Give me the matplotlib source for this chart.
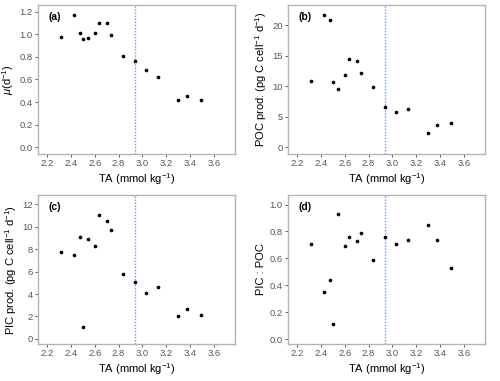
import matplotlib
matplotlib.use("Agg")
import matplotlib.pyplot as plt

plt.rcParams['font.family'] = ['Liberation Sans', 'DejaVu Sans']
plt.rcParams['mathtext.fontset'] = 'custom'
plt.rcParams['mathtext.rm'] = 'Liberation Sans'
plt.rcParams['mathtext.it'] = 'Liberation Sans:italic'

ta = [2.32, 2.43, 2.48, 2.50, 2.54, 2.60, 2.64, 2.70, 2.74, 2.84, 2.94, 3.03, 3.13, 3.30, 3.37, 3.49]
mu = [0.98, 1.17, 1.01, 0.96, 0.97, 1.01, 1.10, 1.10, 0.99, 0.81, 0.76, 0.68, 0.62, 0.42, 0.45, 0.42]
poc = [10.8, 21.7, 20.9, 10.7, 9.5, 11.9, 14.5, 14.2, 12.2, 9.8, 6.6, 5.7, 6.2, 2.3, 3.6, 4.0]
pic = [7.7, 7.5, 9.1, 1.1, 8.9, 8.25, 11.0, 10.5, 9.7, 5.8, 5.1, 4.1, 4.65, 2.0, 2.7, 2.1]
ratio = [0.71, 0.35, 0.44, 0.11, 0.93, 0.69, 0.76, 0.73, 0.79, 0.59, 0.76, 0.71, 0.74, 0.85, 0.74, 0.53]
threshold = 2.935

xticks = [2.2, 2.4, 2.6, 2.8, 3.0, 3.2, 3.4, 3.6]
panels = [
    ("(a)", mu, r"$\mathit{\mu}$(d$^{-1}$)", [0.0, 0.2, 0.4, 0.6, 0.8, 1.0, 1.2], (-0.06, 1.26), "{:.1f}"),
    ("(b)", poc, r"POC prod. (pg C cell$^{-1}$ d$^{-1}$)", [0, 5, 10, 15, 20], (-1.1, 23.3), "{:.0f}"),
    ("(c)", pic, r"PIC prod. (pg C cell$^{-1}$ d$^{-1}$)", [0, 2, 4, 6, 8, 10, 12], (-0.45, 12.8), "{:.0f}"),
    ("(d)", ratio, "PIC : POC", [0.0, 0.2, 0.4, 0.6, 0.8, 1.0], (-0.035, 1.07), "{:.1f}"),
]
positions = [
    (0.076, 0.596, 0.394, 0.391),
    (0.576, 0.596, 0.394, 0.391),
    (0.076, 0.097, 0.394, 0.391),
    (0.576, 0.097, 0.394, 0.391),
]

fig = plt.figure(figsize=(5.0, 3.81), dpi=100)
for (lab, y, ylab, yt, ylim, fmt), pos in zip(panels, positions):
    ax = fig.add_axes(pos)
    ax.axvline(threshold, color="#6a9be0", linestyle=(0, (1, 1.2)), linewidth=1.0, zorder=1)
    ax.scatter(ta, y, s=7, color="black", zorder=3, linewidths=0)
    ax.set_xlim(2.125, 3.775)
    ax.set_ylim(*ylim)
    ax.set_xticks(xticks)
    ax.set_xticklabels([f"{v:.1f}" for v in xticks])
    ax.set_yticks(yt)
    ax.set_yticklabels([fmt.format(v) for v in yt])
    for sp in ax.spines.values():
        sp.set_color("#b3b3b3")
        sp.set_linewidth(1.0)
    ax.tick_params(labelcolor="#555555", labelsize=6.8, length=2.2, width=0.6, pad=1.5, color="#444444")
    ax.set_xlabel(r"TA (mmol kg$^{-1}$)", fontsize=8, labelpad=2)
    ax.set_ylabel(ylab, fontsize=8, labelpad=2.5)
    ax.text(0.055, 0.955, lab, transform=ax.transAxes, fontsize=7.5, fontweight="bold",
            va="top", ha="left")

fig.savefig("out.png", dpi=100)
